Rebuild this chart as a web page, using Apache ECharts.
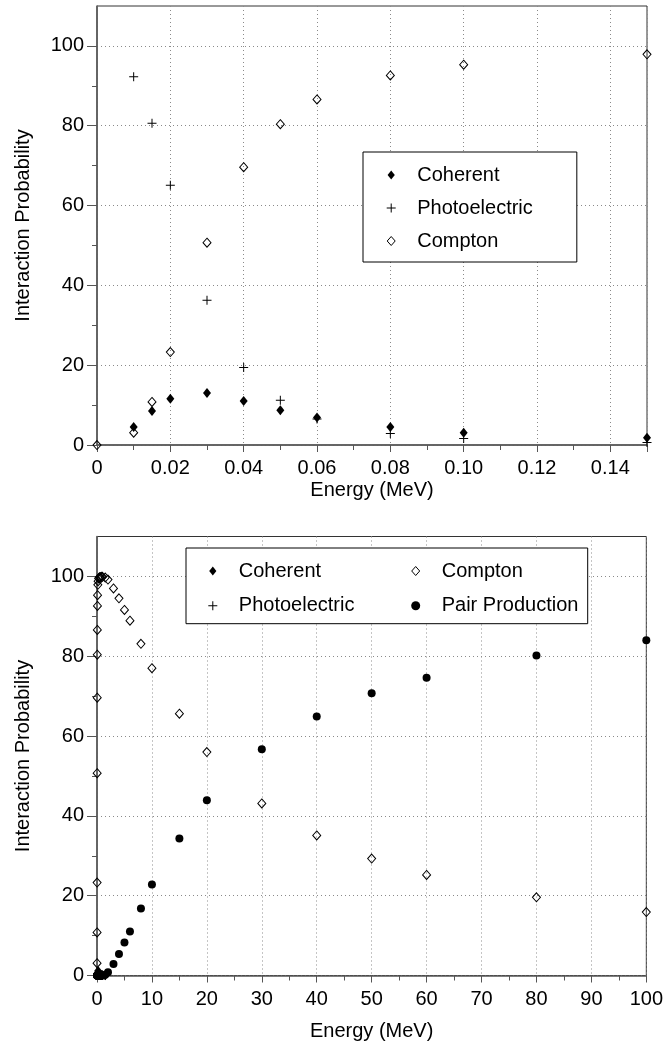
<!DOCTYPE html>
<html><head><meta charset="utf-8">
<script src="https://cdn.jsdelivr.net/npm/echarts@6/dist/echarts.min.js"></script>
<style>html,body{margin:0;padding:0;background:#fff}#c{width:666px;height:1046px}</style>
</head><body><div id="c"></div>
<script>
// ---------- data (top panel, 0–0.15 MeV) ----------
const topEnergy    = [0, 0.01, 0.015, 0.02, 0.03, 0.04, 0.05, 0.06, 0.08, 0.10, 0.15];
const topCoherent  = [null, 4.5, 8.5, 11.6, 13.0, 11.0, 8.7, 6.9, 4.5, 3.1, 1.8];
const topPhoto     = [null, 92.3, 80.6, 65.1, 36.3, 19.4, 11.2, 6.5, 2.9, 1.6, 0.6];
const topCompton   = [0, 3.1, 10.8, 23.3, 50.7, 69.6, 80.4, 86.6, 92.6, 95.3, 97.9];

// ---------- data (bottom panel, 0–100 MeV) ----------
const botEnergy    = [0.01, 0.015, 0.02, 0.03, 0.04, 0.05, 0.06, 0.08, 0.1, 0.15, 0.2, 0.3, 0.4, 0.5, 0.6, 0.8, 1, 1.5, 2, 3, 4, 5, 6, 8, 10, 15, 20, 30, 40, 50, 60, 80, 100];
const botCompton   = [3.1, 10.8, 23.3, 50.7, 69.6, 80.4, 86.6, 92.6, 95.3, 97.9, 98.8, 99.5, 99.7, 99.8, 99.8, 99.9, 99.9, 99.7, 99.2, 97.0, 94.5, 91.6, 88.9, 83.1, 77.0, 65.6, 56.0, 43.1, 35.1, 29.3, 25.2, 19.6, 15.9];
const botPair      = [0, 0, 0, 0, 0, 0, 0, 0, 0, 0, 0, 0, 0, 0, 0, 0, 0, 0.2, 0.8, 2.9, 5.4, 8.3, 11.0, 16.8, 22.8, 34.3, 43.9, 56.7, 64.9, 70.7, 74.6, 80.2, 84.0];
const botCoherent  = [null, null, null, null, null, null, null, null, null, null, 1.1, 0.5, 0.3, 0.2, 0.1, 0.1, 0.1, 0.05, null, null, null, null, null, null, null, null, null, null, null, null, null, null, null];
const botPhoto     = [null, null, null, null, null, null, null, null, null, null, 0.1, 0.05, 0, 0, 0, 0, 0, 0, null, null, null, null, null, null, null, null, null, null, null, null, null, null, null];

// ---------- tick labels ----------
const topXTickValues = [0, 0.02, 0.04, 0.06, 0.08, 0.10, 0.12, 0.14];
const topXTickLabels = ['0', '0.02', '0.04', '0.06', '0.08', '0.10', '0.12', '0.14'];
const topXMinor      = [0.01, 0.03, 0.05, 0.07, 0.09, 0.11, 0.13];
const botXTickValues = [0, 10, 20, 30, 40, 50, 60, 70, 80, 90, 100];
const botXTickLabels = ['0', '10', '20', '30', '40', '50', '60', '70', '80', '90', '100'];
const botXMinor      = [5, 15, 25, 35, 45, 55, 65, 75, 85, 95];
const yTickValues    = [0, 20, 40, 60, 80, 100];
const yTickLabels    = ['0', '20', '40', '60', '80', '100'];
const yMinor         = [10, 30, 50, 70, 90];

const FONT = '"Liberation Sans", Arial, Helvetica, sans-serif';
const txt = {fontFamily: FONT, fontSize: 20, color: '#000'};
const AX = '#555';

function pairs(xs, ys) {
  const out = [];
  xs.forEach((x, i) => { if (ys[i] !== null && ys[i] !== undefined) out.push([x, ys[i]]); });
  return out;
}
function labelOf(vals, labels) {
  return v => { const i = vals.findIndex(t => Math.abs(t - v) < 1e-9); return i >= 0 ? labels[i] : ''; };
}
function mainX(grid, max, interval, vals, labels, margin, nameGap) {
  return {
    gridIndex: grid, type: 'value', min: 0, max: max, interval: interval, position: 'bottom',
    axisLine: {show: true, onZero: false, lineStyle: {color: AX, width: 1.5}},
    axisTick: {show: true, inside: false, length: 7, lineStyle: {color: AX, width: 1}},
    axisLabel: Object.assign({show: true, margin: margin, customValues: vals, formatter: labelOf(vals, labels)}, txt),
    splitLine: {show: true, lineStyle: {color: '#8a8a8a', type: [1, 3], width: 1}},
    name: 'Energy (MeV)', nameLocation: 'middle', nameGap: nameGap, nameTextStyle: txt
  };
}
function minorX(grid, max, vals) {
  return {
    gridIndex: grid, type: 'value', min: 0, max: max, position: 'bottom',
    axisLine: {show: false}, axisLabel: {show: false}, splitLine: {show: false},
    axisTick: {show: true, inside: false, length: 5, customValues: vals, lineStyle: {color: AX, width: 1}}
  };
}
function mainY(grid) {
  return {
    gridIndex: grid, type: 'value', min: 0, max: 110, interval: 20, position: 'left',
    axisLine: {show: true, onZero: false, lineStyle: {color: AX, width: 1.5}},
    axisTick: {show: true, inside: false, length: 10, customValues: yTickValues, lineStyle: {color: AX, width: 1}},
    axisLabel: Object.assign({show: true, margin: 13, customValues: yTickValues, formatter: labelOf(yTickValues, yTickLabels)}, txt),
    splitLine: {show: true, lineStyle: {color: '#8a8a8a', type: [1, 3], width: 1}},
    name: 'Interaction Probability', nameLocation: 'middle', nameGap: 64, nameTextStyle: txt
  };
}
function minorY(grid) {
  return {
    gridIndex: grid, type: 'value', min: 0, max: 110, position: 'left',
    axisLine: {show: false}, axisLabel: {show: false}, splitLine: {show: false},
    axisTick: {show: true, inside: false, length: 5, customValues: yMinor, lineStyle: {color: AX, width: 1}}
  };
}

const PLUS = 'path://M4,0h1v4h4v1h-4v4h-1v-4h-4v-1h4z';
const FDIAM = 'path://M4,0L8,5L4,10L0,5Z';
const ODIAM = 'path://M4,0L8,4.5L4,9L0,4.5Z';
const styles = {
  'Coherent':        {symbol: FDIAM, symbolSize: [8, 10], itemStyle: {color: '#000', opacity: 1}},
  'Photoelectric':   {symbol: PLUS, symbolSize: 9, itemStyle: {color: '#000', opacity: 1}},
  'Compton':         {symbol: ODIAM, symbolSize: [8, 9], itemStyle: {color: 'rgba(0,0,0,0)', borderColor: '#000', borderWidth: 1, opacity: 1}},
  'Pair Production': {symbol: 'circle', symbolSize: 8, itemStyle: {color: '#000', opacity: 1}}
};
function sc(name, grid, data) {
  return Object.assign({
    type: 'scatter', name: name, xAxisIndex: grid * 2, yAxisIndex: grid * 2, data: data,
    emphasis: {disabled: true}, silent: true, z: 3
  }, styles[name]);
}
function legendItem(name) {
  return name === 'Compton' ? {name: name, itemStyle: {borderWidth: 1, borderColor: '#000'}} : {name: name};
}
const leftColumn = ['Coherent', 'Photoelectric'];

const chart = echarts.init(document.getElementById('c'), null, {renderer: 'canvas'});
chart.setOption({
  animation: false,
  backgroundColor: '#fff',
  textStyle: {fontFamily: FONT},
  grid: [
    {left: 97, top: 6, width: 550, height: 439, show: true, borderColor: '#333', borderWidth: 1, backgroundColor: 'transparent'},
    {left: 97, top: 536.5, width: 550, height: 439, show: true, borderColor: '#333', borderWidth: 1, backgroundColor: 'transparent'}
  ],
  xAxis: [
    mainX(0, 0.15, 0.02, topXTickValues, topXTickLabels, 13, 35),
    minorX(0, 0.15, topXMinor),
    mainX(1, 100, 10, botXTickValues, botXTickLabels, 14, 46),
    minorX(1, 100, botXMinor)
  ],
  yAxis: [mainY(0), minorY(0), mainY(1), minorY(1)],
  legend: [
    {
      data: ['Coherent', 'Photoelectric', 'Compton'].map(legendItem), orient: 'vertical', left: 363, top: 152,
      itemWidth: 42, itemHeight: 9, itemGap: 13, padding: [13, 44, 11, 23.7],
      borderColor: '#000', borderWidth: 1, backgroundColor: '#fff', selectedMode: false,
      textStyle: Object.assign({lineHeight: 20}, txt)
    },
    {
      data: ['Coherent', 'Compton', 'Photoelectric', 'Pair Production'].map(legendItem), orient: 'horizontal', left: 186, top: 548, width: 440,
      itemWidth: 42, itemHeight: 9, itemGap: 14.7, padding: [13, 6, 8, 22.3],
      borderColor: '#000', borderWidth: 1, backgroundColor: '#fff', selectedMode: false,
      formatter: n => (leftColumn.indexOf(n) >= 0 ? '{a|' : '{b|') + n + '}',
      textStyle: Object.assign({lineHeight: 20, rich: {
        a: {width: 157.7, fontSize: 20, fontFamily: FONT, color: '#000', lineHeight: 20},
        b: {width: 140, fontSize: 20, fontFamily: FONT, color: '#000', lineHeight: 20}
      }}, txt)
    }
  ],
  series: [
    sc('Coherent', 0, pairs(topEnergy, topCoherent)),
    sc('Photoelectric', 0, pairs(topEnergy, topPhoto)),
    sc('Compton', 0, pairs(topEnergy, topCompton)),
    sc('Coherent', 1, pairs(botEnergy, botCoherent)),
    sc('Photoelectric', 1, pairs(botEnergy, botPhoto)),
    sc('Compton', 1, pairs(botEnergy, botCompton)),
    sc('Pair Production', 1, pairs(botEnergy, botPair))
  ]
});
</script></body></html>
